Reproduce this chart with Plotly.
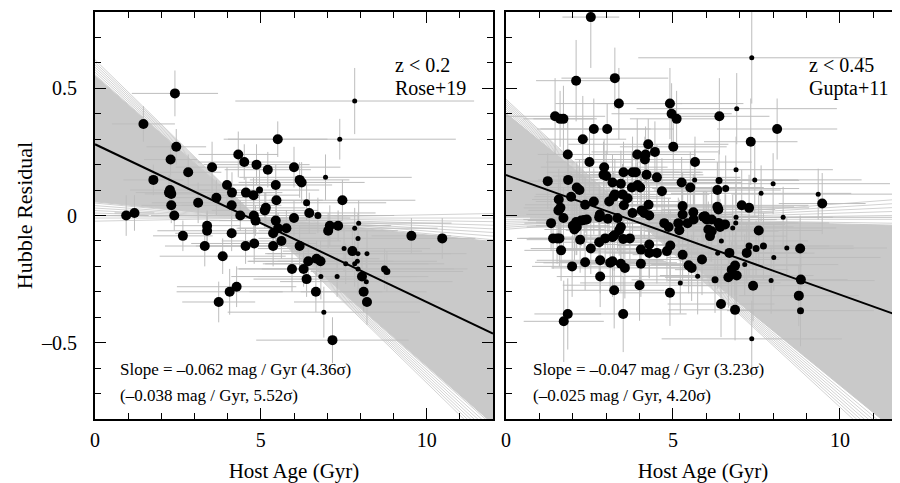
import plotly.graph_objects as go

FONT = "Liberation Serif"

# ---------------- Left panel data (z < 0.2, Rose+19) ----------------
left_age = [2.41, 1.46, 2.45, 2.28, 2.81, 1.76, 2.26, 2.23, 2.30, 2.30,
            2.39, 0.94, 1.19, 2.65, 3.11, 3.53, 3.66, 3.38, 3.38, 3.31,
            3.85, 3.73, 4.06, 4.27, 3.98, 4.13, 4.12, 4.12, 4.32, 4.50,
            4.87, 5.21, 5.51, 4.55, 4.78, 4.96, 4.38, 4.79, 4.84, 4.54,
            4.80, 5.12, 5.15, 5.45, 5.47, 5.45, 5.52, 5.77, 5.37, 5.62,
            5.37, 5.94, 6.00, 6.00, 7.83, 7.38, 6.17, 6.23, 6.95, 7.46,
            6.38, 6.46, 6.72, 7.08, 7.03, 7.33, 7.95, 7.83, 7.93, 6.17,
            6.29, 6.43, 6.68, 6.80, 6.38, 6.81, 7.30, 6.66, 6.90, 7.16,
            7.51, 7.76, 7.93, 8.20, 7.56, 7.83, 7.91, 7.93, 8.05, 8.18,
            8.10, 8.20, 8.73, 8.80, 9.54, 10.47]
left_hr = [0.48, 0.36, 0.27, 0.22, 0.17, 0.14, 0.10, 0.09, 0.085, 0.04,
           0.0, 0.0, 0.01, -0.08, 0.05, 0.19, 0.07, -0.04, -0.06, -0.12,
           -0.16, -0.34, -0.30, -0.28, 0.12, 0.09, 0.04, -0.07, 0.24, 0.21,
           0.20, 0.18, 0.30, 0.09, 0.08, 0.10, 0.00, 0.00, -0.02, -0.12,
           -0.11, 0.02, 0.03, 0.12, 0.06, -0.02, -0.05, -0.05, -0.07, -0.10,
           -0.12, -0.21, 0.19, -0.01, 0.45, 0.30, 0.14, 0.13, 0.15, 0.06,
           0.05, 0.01, 0.00, -0.04, -0.06, -0.04, -0.03, -0.05, -0.09, -0.12,
           -0.21, -0.18, -0.17, -0.18, -0.25, -0.24, -0.24, -0.30, -0.38, -0.49,
           -0.13, -0.14, -0.15, -0.15, -0.19, -0.19, -0.18, -0.21, -0.24, -0.26,
           -0.30, -0.34, -0.21, -0.22, -0.08, -0.09]
left_age_err = [1.3, 0.95, 0.9, 0.8, 1.0, 0.9, 1.2, 1.0, 0.8, 0.9,
                0.7, 0.68, 0.6, 0.9, 1.4, 1.1, 1.3, 1.0, 1.5, 1.2,
                1.9, 1.1, 1.6, 1.8, 1.3, 1.2, 1.5, 1.7, 1.2, 1.4,
                1.6, 1.3, 1.5, 1.1, 1.4, 1.8, 1.6, 1.3, 1.1, 1.5,
                1.9, 1.6, 1.2, 1.7, 1.4, 2.0, 1.2, 1.5, 1.3, 1.8,
                2.1, 1.6, 1.4, 1.7, 3.6, 3.5, 1.5, 1.9, 2.6, 2.2,
                2.4, 2.0, 2.3, 1.8, 2.1, 1.6, 2.8, 2.5, 3.0, 1.7,
                2.0, 1.8, 1.9, 2.2, 1.6, 2.7, 2.4, 2.0, 2.9, 2.3,
                2.6, 2.1, 2.8, 3.0, 2.5, 2.7, 2.4, 2.9, 2.0, 2.6,
                1.9, 2.2, 2.5, 2.3, 1.2, 1.0]
left_hr_err = [0.09, 0.07, 0.07, 0.06, 0.07, 0.06, 0.06, 0.07, 0.06, 0.07,
               0.06, 0.08, 0.07, 0.06, 0.08, 0.10, 0.07, 0.06, 0.07, 0.08,
               0.07, 0.08, 0.09, 0.08, 0.07, 0.08, 0.06, 0.07, 0.09, 0.07,
               0.08, 0.07, 0.07, 0.06, 0.07, 0.08, 0.06, 0.07, 0.06, 0.07,
               0.08, 0.07, 0.06, 0.08, 0.07, 0.08, 0.06, 0.07, 0.06, 0.07,
               0.08, 0.09, 0.08, 0.07, 0.13, 0.08, 0.07, 0.08, 0.09, 0.08,
               0.07, 0.08, 0.07, 0.08, 0.07, 0.06, 0.09, 0.08, 0.10, 0.08,
               0.07, 0.08, 0.07, 0.08, 0.07, 0.09, 0.08, 0.08, 0.10, 0.09,
               0.09, 0.08, 0.08, 0.09, 0.08, 0.09, 0.08, 0.10, 0.08, 0.09,
               0.08, 0.09, 0.08, 0.08, 0.07, 0.08]
left_weight = [3, 3, 3, 3, 3, 3, 3, 3, 3, 3,
               3, 3, 3, 3, 3, 3, 3, 3, 3, 3,
               3, 3, 3, 3, 3, 3, 3, 3, 3, 3,
               3, 3, 3, 3, 3, 2, 3, 3, 3, 3,
               3, 3, 3, 3, 3, 3, 3, 3, 3, 3,
               3, 3, 3, 3, 1, 1, 3, 3, 1, 3,
               2, 3, 2, 3, 3, 3, 1, 1, 1, 3,
               3, 3, 3, 3, 3, 1, 1, 3, 1, 3,
               1, 3, 1, 1, 1, 1, 1, 1, 3, 1,
               3, 3, 2, 2, 3, 3]
left_fit = [0.28, -0.062]          # intercept, slope (mag / Gyr)
left_fan_pivot = [4.9, -0.01]
left_fan_core = [-0.114, -0.013]
left_fan_edges = [-0.127, -0.125, -0.123, -0.121, -0.119, -0.117, -0.115,
                  -0.012, -0.010, -0.008, -0.006, -0.004, -0.002, 0.0, 0.0025]

# ---------------- Right panel data (z < 0.45, Gupta+11) ----------------
right_age = [2.54, 2.10, 3.26, 3.38, 1.47, 1.62, 1.72, 2.30, 2.63, 3.03,
             4.91, 4.96, 5.11, 5.01, 4.26, 4.46, 3.93, 4.18, 4.16, 1.85,
             2.50, 5.66, 1.25, 7.36, 6.39, 6.91, 8.12, 7.33, 2.94, 2.92,
             3.00, 3.52, 3.79, 3.89, 4.21, 4.52, 5.65, 5.26, 5.52, 1.86,
             3.19, 3.44, 2.12, 2.20, 3.77, 3.94, 4.02, 4.67, 1.58, 1.95,
             2.63, 2.37, 3.09, 3.22, 3.26, 3.49, 3.53, 3.64, 4.27, 1.57,
             1.63, 3.79, 4.06, 4.14, 4.29, 5.29, 5.29, 5.61, 5.91, 1.72,
             1.35, 2.10, 2.25, 2.34, 2.42, 2.79, 2.81, 3.05, 3.34, 2.00,
             2.05, 2.12, 3.44, 3.39, 3.24, 3.19, 2.97, 2.79, 1.41, 1.53,
             1.60, 2.22, 1.65, 2.54, 3.51, 3.71, 4.04, 4.29, 4.29, 4.52,
             4.74, 4.87, 4.82, 4.92, 5.16, 5.19, 5.29, 5.44, 5.62, 5.87,
             1.98, 2.37, 2.82, 2.82, 3.12, 3.19, 3.44, 3.56, 4.04, 3.24,
             4.00, 4.91, 5.22, 5.47, 5.56, 5.74, 1.85, 1.73, 3.51, 6.89,
             6.38, 6.33, 6.58, 7.45, 8.00, 7.64, 9.35, 9.47, 7.06, 7.28,
             6.33, 6.36, 6.89, 8.30, 5.96, 6.01, 6.16, 6.36, 6.56, 6.41,
             6.88, 6.79, 6.06, 6.16, 6.11, 7.57, 6.45, 7.28, 7.49, 7.71,
             8.41, 8.81, 6.69, 7.21, 6.34, 8.02, 6.86, 6.76, 6.91, 7.15,
             6.26, 6.66, 7.40, 7.94, 8.83, 8.77, 8.82, 6.44, 6.86, 7.36]
right_hr = [0.78, 0.53, 0.54, 0.44, 0.39, 0.38, 0.38, 0.30, 0.34, 0.34,
            0.44, 0.40, 0.38, 0.27, 0.28, 0.25, 0.24, 0.24, 0.22, 0.24,
            0.21, 0.21, 0.135, 0.62, 0.39, 0.42, 0.34, 0.29, 0.19, 0.16,
            0.155, 0.17, 0.17, 0.17, 0.16, 0.15, 0.14, 0.13, 0.11, 0.14,
            0.13, 0.125, 0.11, 0.10, 0.11, 0.12, 0.11, 0.095, 0.063, 0.074,
            0.055, 0.042, 0.055, 0.074, 0.083, 0.083, 0.04, 0.068, 0.042, 0.02,
            0.03, 0.01, 0.02, 0.01, 0.0, 0.037, 0.004, 0.013, -0.005, -0.01,
            -0.03, -0.026, -0.02, -0.018, -0.016, -0.007, 0.004, -0.013, -0.01, -0.04,
            -0.055, -0.045, -0.045, -0.058, -0.078, -0.085, -0.09, -0.105, -0.09, -0.09,
            -0.09, -0.095, -0.137, -0.13, -0.092, -0.09, -0.134, -0.114, -0.147, -0.147,
            -0.03, -0.045, -0.14, -0.118, -0.03, -0.058, -0.154, -0.03, -0.016, -0.173,
            -0.20, -0.184, -0.176, -0.24, -0.186, -0.18, -0.19, -0.206, -0.19, -0.294,
            -0.274, -0.304, -0.265, -0.196, -0.206, -0.239, -0.387, -0.416, -0.387, 0.18,
            0.138, 0.10, 0.106, 0.14, 0.125, 0.087, 0.084, 0.047, 0.04, 0.03,
            0.034, 0.024, -0.007, -0.007, -0.003, -0.016, -0.016, -0.029, -0.035, -0.045,
            -0.029, -0.049, -0.055, -0.062, -0.081, -0.059, -0.10, -0.12, -0.13, -0.12,
            -0.128, -0.13, -0.147, -0.147, -0.148, -0.165, -0.197, -0.213, -0.236, -0.193,
            -0.253, -0.243, -0.276, -0.256, -0.252, -0.315, -0.374, -0.348, -0.371, -0.485]
right_age_err = [0.85, 1.2, 1.6, 1.9, 1.5, 1.1, 0.9, 1.3, 1.7, 2.0,
                 2.2, 1.8, 1.4, 1.6, 2.4, 1.9, 1.2, 1.5, 2.1, 0.9,
                 1.3, 1.7, 0.8, 3.4, 1.5, 3.0, 1.8, 1.4, 1.9, 1.2,
                 1.6, 2.3, 1.4, 2.0, 1.7, 2.5, 3.1, 1.8, 2.2, 0.9,
                 1.5, 2.1, 1.3, 1.0, 1.9, 1.6, 2.4, 1.7, 0.8, 1.1,
                 1.4, 1.8, 2.2, 1.5, 1.2, 2.6, 1.9, 1.3, 2.1, 0.9,
                 1.1, 1.7, 2.3, 1.4, 1.8, 2.0, 1.5, 2.4, 1.6, 1.0,
                 0.8, 1.2, 1.6, 1.0, 1.9, 1.4, 2.2, 1.7, 1.3, 1.1,
                 0.9, 1.5, 2.0, 1.6, 1.2, 1.8, 2.3, 1.4, 1.0, 1.2,
                 0.9, 1.6, 1.1, 1.8, 2.1, 1.5, 2.5, 1.7, 1.3, 2.0,
                 1.9, 1.4, 2.2, 1.6, 2.4, 1.8, 1.5, 2.1, 1.7, 2.3,
                 1.2, 1.5, 1.9, 1.3, 2.0, 1.6, 1.4, 2.2, 1.8, 1.5,
                 2.3, 1.7, 3.0, 2.0, 1.6, 2.8, 1.0, 1.2, 1.9, 2.9,
                 2.4, 1.9, 2.2, 3.2, 3.5, 2.7, 2.6, 1.3, 2.0, 1.8,
                 2.3, 1.7, 2.9, 3.3, 1.6, 2.1, 1.9, 2.4, 1.8, 2.2,
                 2.8, 3.1, 1.7, 2.0, 2.3, 1.9, 2.6, 2.4, 2.1, 2.7,
                 3.0, 1.6, 2.2, 1.8, 2.9, 3.2, 2.0, 1.7, 2.3, 2.8,
                 2.5, 1.9, 2.1, 3.1, 1.4, 1.8, 2.2, 1.6, 2.0, 2.7]
right_hr_err = [0.20, 0.16, 0.12, 0.14, 0.15, 0.11, 0.13, 0.17, 0.12, 0.10,
                0.14, 0.12, 0.11, 0.13, 0.10, 0.12, 0.14, 0.11, 0.09, 0.13,
                0.12, 0.10, 0.11, 0.18, 0.15, 0.14, 0.12, 0.17, 0.11, 0.13,
                0.10, 0.12, 0.14, 0.09, 0.11, 0.13, 0.12, 0.10, 0.14, 0.12,
                0.11, 0.13, 0.10, 0.12, 0.14, 0.09, 0.11, 0.13, 0.12, 0.10,
                0.13, 0.11, 0.12, 0.10, 0.14, 0.12, 0.09, 0.11, 0.13, 0.10,
                0.12, 0.11, 0.14, 0.10, 0.12, 0.13, 0.11, 0.15, 0.10, 0.12,
                0.11, 0.13, 0.10, 0.12, 0.09, 0.14, 0.11, 0.12, 0.13, 0.10,
                0.12, 0.11, 0.13, 0.10, 0.14, 0.12, 0.11, 0.13, 0.12, 0.10,
                0.11, 0.13, 0.12, 0.10, 0.14, 0.11, 0.12, 0.13, 0.10, 0.12,
                0.13, 0.11, 0.12, 0.14, 0.10, 0.12, 0.11, 0.13, 0.10, 0.14,
                0.12, 0.11, 0.13, 0.12, 0.10, 0.14, 0.11, 0.12, 0.13, 0.15,
                0.14, 0.13, 0.12, 0.11, 0.13, 0.15, 0.14, 0.16, 0.15, 0.13,
                0.12, 0.11, 0.13, 0.14, 0.12, 0.11, 0.10, 0.12, 0.14, 0.13,
                0.11, 0.12, 0.13, 0.12, 0.10, 0.11, 0.13, 0.12, 0.14, 0.11,
                0.12, 0.13, 0.11, 0.12, 0.10, 0.14, 0.13, 0.12, 0.11, 0.13,
                0.12, 0.13, 0.11, 0.12, 0.14, 0.13, 0.12, 0.11, 0.13, 0.12,
                0.13, 0.12, 0.14, 0.13, 0.11, 0.12, 0.14, 0.13, 0.12, 0.15]
right_weight = [3, 3, 3, 3, 3, 3, 3, 3, 3, 3,
                3, 3, 3, 3, 3, 3, 3, 3, 3, 3,
                3, 3, 3, 1, 3, 1, 3, 3, 3, 3,
                3, 3, 3, 3, 3, 3, 1, 3, 3, 3,
                3, 3, 3, 3, 3, 3, 3, 3, 3, 3,
                3, 3, 3, 3, 3, 3, 3, 3, 3, 3,
                3, 3, 3, 3, 3, 3, 3, 3, 3, 3,
                3, 3, 3, 3, 3, 3, 3, 3, 3, 3,
                3, 3, 3, 3, 3, 3, 3, 3, 3, 3,
                3, 3, 3, 3, 3, 3, 3, 3, 3, 3,
                3, 3, 3, 3, 3, 3, 3, 3, 3, 3,
                3, 3, 3, 3, 3, 3, 3, 3, 3, 3,
                3, 3, 1, 3, 3, 1, 3, 3, 3, 1,
                2, 3, 2, 1, 1, 1, 1, 3, 3, 3,
                3, 3, 1, 1, 3, 3, 3, 3, 3, 3,
                1, 1, 3, 3, 3, 3, 1, 2, 2, 2,
                1, 3, 3, 3, 1, 1, 3, 3, 3, 1,
                2, 3, 3, 1, 3, 3, 2, 3, 3, 1]
right_fit = [0.159, -0.047]
right_fan_pivot = [3.9, -0.015]
right_fan_core = [-0.107, -0.003]
right_fan_edges = [-0.121, -0.119, -0.117, -0.115, -0.113, -0.111, -0.109,
                   -0.002, 0.0, 0.002, 0.004, 0.006, 0.008, 0.010]

# ---------------- text ----------------
x_ticks = [0, 5, 10]
y_ticks = [-0.5, 0, 0.5]
y_ticktext = ["\u20130.5", "0", "0.5"]
left_label = ["z < 0.2", "Rose+19"]
right_label = ["z < 0.45", "Gupta+11"]
left_slope_text = ["Slope = \u20130.062 mag / Gyr (4.36\u03c3)", "(\u20130.038 mag / Gyr, 5.52\u03c3)"]
right_slope_text = ["Slope = \u20130.047 mag / Gyr (3.23\u03c3)", "(\u20130.025 mag / Gyr, 4.20\u03c3)"]

SIZE_MAP = {1: 5, 2: 7, 3: 10}
FAN_FILL = "#c9c9c9"
FAN_LINE = "#d2d2d2"
ERR_COLOR = "#bdbdbd"

# page body has an 8px margin, so the figure is 8px smaller than the window
W, H = 892, 475

fig = go.Figure()


def fan_y(pivot, b, x):
    return pivot[1] + b * (x - pivot[0])


def add_panel(xa, ya, ages, hrs, age_err, hr_err, weights, fit, pivot, core, edges, xmax):
    ex, ey = [], []
    for b in edges:
        ex += [0, xmax, None]
        ey += [fan_y(pivot, b, 0), fan_y(pivot, b, xmax), None]
    fig.add_trace(go.Scatter(x=ex, y=ey, mode="lines", xaxis=xa, yaxis=ya,
                             line=dict(color=FAN_LINE, width=1), hoverinfo="skip"))
    b1, b2 = core
    fig.add_trace(go.Scatter(
        x=[0, xmax, xmax, 0, 0],
        y=[fan_y(pivot, b1, 0), fan_y(pivot, b1, xmax), fan_y(pivot, b2, xmax),
           fan_y(pivot, b2, 0), fan_y(pivot, b1, 0)],
        mode="lines", fill="toself", fillcolor=FAN_FILL,
        line=dict(color=FAN_FILL, width=1), xaxis=xa, yaxis=ya, hoverinfo="skip"))
    fig.add_trace(go.Scatter(
        x=ages, y=hrs, mode="markers", xaxis=xa, yaxis=ya,
        marker=dict(size=2, color="rgba(0,0,0,0)"),
        error_x=dict(type="data", array=age_err, color=ERR_COLOR, thickness=1, width=0),
        error_y=dict(type="data", array=hr_err, color=ERR_COLOR, thickness=1, width=0),
        hoverinfo="skip"))
    fig.add_trace(go.Scatter(x=[0, xmax], y=[fit[0], fit[0] + fit[1] * xmax],
                             mode="lines", xaxis=xa, yaxis=ya,
                             line=dict(color="black", width=2)))
    fig.add_trace(go.Scatter(
        x=ages, y=hrs, mode="markers", xaxis=xa, yaxis=ya,
        marker=dict(size=[SIZE_MAP[w] for w in weights], color="black", opacity=1,
                    line=dict(width=0))))


add_panel("x", "y", left_age, left_hr, left_age_err, left_hr_err, left_weight,
          left_fit, left_fan_pivot, left_fan_core, left_fan_edges, 12)
add_panel("x2", "y2", right_age, right_hr, right_age_err, right_hr_err, right_weight,
          right_fit, right_fan_pivot, right_fan_core, right_fan_edges, 11.8)

tickfont = dict(family=FONT, size=20, color="black")
minor_x = dict(ticks="inside", ticklen=6, tickwidth=1, tickcolor="black", tick0=0, dtick=1)
minor_y = dict(ticks="inside", ticklen=6, tickwidth=1, tickcolor="black", tick0=0, dtick=0.1)


def xaxis_cfg(domain, rng, anchor):
    return dict(domain=domain, range=rng, anchor=anchor, showline=True, linewidth=2,
                linecolor="black", mirror="ticks", ticks="inside", ticklen=11, tickwidth=1,
                tickcolor="black", tickmode="array", tickvals=x_ticks, minor=minor_x,
                showgrid=False, zeroline=False, tickfont=tickfont, ticklabelstandoff=2,
                automargin=False,
                title=dict(text="Host Age (Gyr)",
                           font=dict(family=FONT, size=21, color="black"), standoff=18))


yaxis_common = dict(range=[-0.8, 0.8], ticks="inside", ticklen=11, tickwidth=1,
                    tickcolor="black", tickmode="array", tickvals=y_ticks, ticktext=y_ticktext,
                    minor=minor_y, showgrid=False, zeroline=False, tickfont=tickfont,
                    automargin=False)

fig.update_layout(
    width=W, height=H,
    margin=dict(l=0, r=0, t=4, b=64),
    paper_bgcolor="white", plot_bgcolor="white",
    showlegend=False,
    font=dict(family=FONT, color="black"),
    xaxis=xaxis_cfg([87 / W, 485 / W], [0, 12], "y"),
    xaxis2=xaxis_cfg([498 / W, 1.0], [0, 11.8], "y2"),
    yaxis=dict(yaxis_common, anchor="x", showline=True, linewidth=2, linecolor="black",
               mirror="ticks", ticklabelstandoff=12,
               title=dict(text="Hubble Residual",
                          font=dict(family=FONT, size=22, color="black"), standoff=2)),
    yaxis2=dict(yaxis_common, anchor="x2", showline=True, linewidth=2, linecolor="black",
                mirror=False, showticklabels=False),
    yaxis3=dict(yaxis_common, anchor="x2", overlaying="y2", side="right",
                showline=False, showticklabels=False),
)

ann = []
for xr, yr, lab, x0 in [("x", "y", left_label, 8.98), ("x2", "y2", right_label, 9.01)]:
    for txt, yv in zip(lab, [0.59, 0.50]):
        ann.append(dict(xref=xr, yref=yr, x=x0, y=yv, text=txt, showarrow=False,
                        xanchor="left", yanchor="middle",
                        font=dict(family=FONT, size=20, color="black")))
for xr, yr, lab, x0 in [("x", "y", left_slope_text, 0.69), ("x2", "y2", right_slope_text, 0.75)]:
    for txt, yv in zip(lab, [-0.606, -0.709]):
        ann.append(dict(xref=xr, yref=yr, x=x0, y=yv, text=txt, showarrow=False,
                        xanchor="left", yanchor="middle",
                        font=dict(family=FONT, size=17, color="black")))
fig.update_layout(annotations=ann)

fig.write_html("out.html")
